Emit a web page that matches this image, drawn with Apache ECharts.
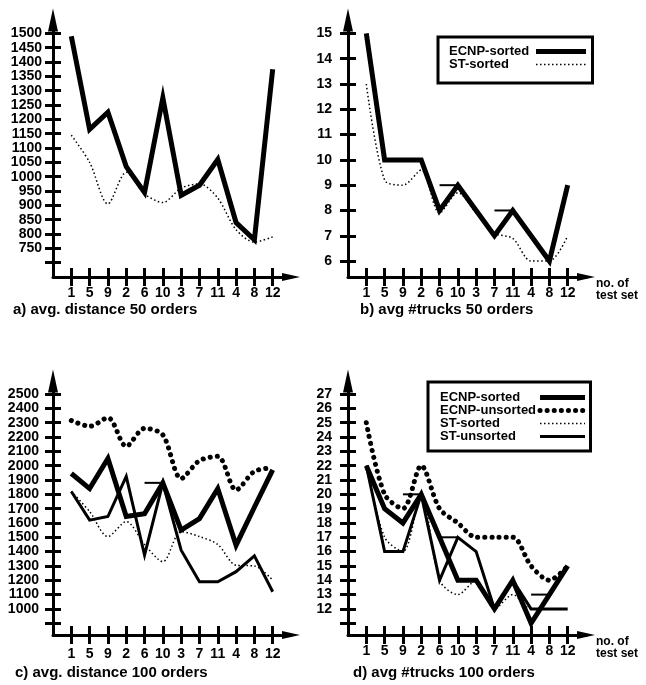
<!DOCTYPE html>
<html>
<head>
<meta charset="utf-8">
<title>ECNP / ST test sets</title>
<script src="https://cdn.jsdelivr.net/npm/echarts@6/dist/echarts.min.js"></script>
<style>
html, body { margin: 0; padding: 0; background: #fff; }
#main { width: 646px; height: 685px; }
</style>
</head>
<body>
<div id="main"></div>
<script>
var testSets = ['1', '5', '9', '2', '6', '10', '3', '7', '11', '4', '8', '12'];

// a) avg. distance 50 orders
var distEcnpSorted50 = [1490, 1165, 1225, 1035, 945, 1275, 935, 970, 1060, 840, 780, 1375];
var distStSorted50 = [1145, 1050, 905, 1015, 940, 910, 960, 975, 925, 815, 772, 790];

// b) avg #trucks 50 orders
var trucksEcnpSorted50 = [15, 10, 10, 10, 8, 9, 8, 7, 8, 7, 6, 9];
var trucksStSorted50 = [13, 9.2, 9, 9.6, 7.9, 8.7, 7.9, 7.1, 6.9, 6, 6, 7];

// c) avg. distance 100 orders
var distEcnpSorted100 = [1945, 1840, 2050, 1645, 1665, 1880, 1550, 1630, 1840, 1445, 1710, 1970];
var distEcnpUnsorted100 = [2315, 2275, 2335, 2135, 2260, 2215, 1910, 2035, 2065, 1830, 1960, 1985];
var distStSorted100 = [1820, 1680, 1505, 1610, 1450, 1330, 1540, 1505, 1450, 1305, 1300, 1200];
var distStUnsorted100 = [1820, 1620, 1645, 1925, 1375, 1880, 1410, 1190, 1190, 1260, 1370, 1120];

// d) avg #trucks 100 orders
var trucksEcnpSorted100 = [22, 19, 18, 20, 17, 14, 14, 12, 14, 11, 13, 15];
var trucksEcnpUnsorted100 = [25, 20, 19, 22, 19, 18, 17, 17, 17, 15, 14, 15];
var trucksStSorted100 = [22, 17, 16, 20, 14, 13, 14, 12, 13, 12, 12, 12];
var trucksStUnsorted100 = [22, 16, 16, 20, 14, 17, 16, 12, 14, 12, 12, 12];

// short flat strokes left in the original plots: [from index, to index, value]
var stepsB = [[4, 5, 9], [7, 8, 8]];
var stepsC = [[4, 5, 1880]];
var stepsD = [[2, 3, 20], [4, 5, 17], [9, 10, 13]];

// y ticks / labels
var ticksA = [700, 750, 800, 850, 900, 950, 1000, 1050, 1100, 1150, 1200, 1250, 1300, 1350, 1400, 1450, 1500];
var labelsA = [750, 800, 850, 900, 950, 1000, 1050, 1100, 1150, 1200, 1250, 1300, 1350, 1400, 1450, 1500];
var ticksB = [6, 7, 8, 9, 10, 11, 12, 13, 14, 15];
var labelsB = [6, 7, 8, 9, 10, 11, 12, 13, 14, 15];
var ticksC = [900, 1000, 1100, 1200, 1300, 1400, 1500, 1600, 1700, 1800, 1900, 2000, 2100, 2200, 2300, 2400, 2500];
var labelsC = [1000, 1100, 1200, 1300, 1400, 1500, 1600, 1700, 1800, 1900, 2000, 2100, 2200, 2300, 2400, 2500];
var ticksD = [11, 12, 13, 14, 15, 16, 17, 18, 19, 20, 21, 22, 23, 24, 25, 26, 27];
var labelsD = [12, 13, 14, 15, 16, 17, 18, 19, 20, 21, 22, 23, 24, 25, 26, 27];

var FONT = '"Liberation Sans", Arial, sans-serif';
var catIdx = [0, 1, 2, 3, 4, 5, 6, 7, 8, 9, 10, 11];

var dom = document.getElementById('main');
var myChart = echarts.init(dom, null, { renderer: 'canvas' });

function pairs(values) {
    return values.map(function (v, i) { return [i, v]; });
}

var styles = {
    'ECNP-sorted': { lineStyle: { color: '#000', width: 5, type: 'solid', join: 'miter' }, smooth: false },
    'ECNP-unsorted': { lineStyle: { color: '#000', width: 5, type: [0.1, 7], cap: 'round' }, smooth: 0.3 },
    'ST-sorted': { lineStyle: { color: '#000', width: 1.5, type: [1.5, 2.5] }, smooth: 0.3 },
    'ST-unsorted': { lineStyle: { color: '#000', width: 3, type: 'solid', join: 'miter' }, smooth: false }
};

var xAxes = [], yAxes = [], series = [];

// one panel = grid g, two overlapping axes per direction so ticks cross the axis line
function panel(g, yMin, yMax, ticks, labels, yMargin, xMargin, withName) {
    xAxes.push({
        type: 'value', gridIndex: g, min: -1, max: 12, position: 'bottom',
        axisLine: { show: true, onZero: false, symbol: ['none', 'triangle'], symbolSize: [8, 18],
            lineStyle: { color: '#000', width: 3 } },
        axisTick: { show: true, customValues: catIdx, length: 9, lineStyle: { color: '#000', width: 3 } },
        axisLabel: { show: true, customValues: catIdx, margin: xMargin,
            formatter: function (v) { return testSets[v]; },
            color: '#000', fontFamily: FONT, fontSize: 14, fontWeight: 'bold' },
        splitLine: { show: false },
        name: withName ? 'no. of\ntest set' : '',
        nameLocation: 'end', nameGap: 10,
        nameTextStyle: { color: '#000', fontFamily: FONT, fontSize: 12, fontWeight: 'bold',
            lineHeight: 12, align: 'left', verticalAlign: 'top', padding: [1, 0, 0, 0] }
    });
    xAxes.push({
        type: 'value', gridIndex: g, min: -1, max: 12, position: 'bottom',
        axisLine: { show: false, onZero: false },
        axisTick: { show: true, inside: true, customValues: catIdx, length: 9, lineStyle: { color: '#000', width: 3 } },
        axisLabel: { show: false },
        splitLine: { show: false }
    });
    yAxes.push({
        type: 'value', gridIndex: g, min: yMin, max: yMax, position: 'left',
        axisLine: { show: true, onZero: false, symbol: ['none', 'triangle'], symbolSize: [10, 23],
            lineStyle: { color: '#000', width: 3 } },
        axisTick: { show: true, customValues: ticks, length: 8, lineStyle: { color: '#000', width: 3 } },
        axisLabel: { show: true, customValues: labels, margin: yMargin,
            formatter: function (v) { return String(v); },
            color: '#000', fontFamily: FONT, fontSize: 14, fontWeight: 'bold' },
        splitLine: { show: false }
    });
    yAxes.push({
        type: 'value', gridIndex: g, min: yMin, max: yMax, position: 'left',
        axisLine: { show: false, onZero: false },
        axisTick: { show: true, inside: true, customValues: ticks, length: 8, lineStyle: { color: '#000', width: 3 } },
        axisLabel: { show: false },
        splitLine: { show: false }
    });
}

function addLine(g, name, values) {
    var st = styles[name];
    series.push({
        name: name, type: 'line', xAxisIndex: 2 * g, yAxisIndex: 2 * g,
        data: pairs(values), symbol: 'none', smooth: st.smooth,
        lineStyle: st.lineStyle, itemStyle: { color: '#000' },
        silent: true, animation: false, z: 3
    });
}

function addSteps(g, steps) {
    steps.forEach(function (s) {
        series.push({
            type: 'line', xAxisIndex: 2 * g, yAxisIndex: 2 * g,
            data: [[s[0], s[2]], [s[1], s[2]]], symbol: 'none',
            lineStyle: { color: '#000', width: 2 }, silent: true, animation: false, z: 2
        });
    });
}

panel(0, 650, 1546.5, ticksA, labelsA, 11, 9, false);
panel(1, 5.37, 15.53, ticksB, labelsB, 16, 9, true);
panel(2, 818, 2591, ticksC, labelsC, 14, 12, false);
panel(3, 10.18, 27.91, ticksD, labelsD, 16, 9, true);

addLine(0, 'ECNP-sorted', distEcnpSorted50);
addLine(0, 'ST-sorted', distStSorted50);

addLine(1, 'ECNP-sorted', trucksEcnpSorted50);
addLine(1, 'ST-sorted', trucksStSorted50);
addSteps(1, stepsB);

addLine(2, 'ECNP-unsorted', distEcnpUnsorted100);
addLine(2, 'ECNP-sorted', distEcnpSorted100);
addLine(2, 'ST-unsorted', distStUnsorted100);
addLine(2, 'ST-sorted', distStSorted100);
addSteps(2, stepsC);

addLine(3, 'ECNP-unsorted', trucksEcnpUnsorted100);
addLine(3, 'ECNP-sorted', trucksEcnpSorted100);
addLine(3, 'ST-unsorted', trucksStUnsorted100);
addLine(3, 'ST-sorted', trucksStSorted100);
addSteps(3, stepsD);

function legendBox(names, left, top, textWidth, iconWidth, rowHeight, padding) {
    return {
        data: names, left: left, top: top, orient: 'vertical', align: 'right',
        padding: padding, itemGap: 0, itemWidth: iconWidth, itemHeight: 12,
        borderColor: '#000', borderWidth: 3, backgroundColor: '#fff',
        selectedMode: false,
        // only the line sample, no symbol in the middle
        itemStyle: { color: 'rgba(0,0,0,0)', borderColor: 'rgba(0,0,0,0)', borderWidth: 0, opacity: 0 },
        lineStyle: { width: 'inherit', type: 'inherit', color: 'inherit' },
        formatter: '{n|{name}}',
        textStyle: {
            rich: { n: { width: textWidth, align: 'left', color: '#000', fontFamily: FONT,
                fontSize: 13, fontWeight: 'bold', lineHeight: rowHeight } }
        }
    };
}

var titleStyle = { color: '#000', fontFamily: FONT, fontSize: 15, fontWeight: 'bold' };

option = {
    backgroundColor: '#fff',
    animation: false,
    title: [
        { text: 'a) avg. distance 50 orders', left: 13, top: 302, padding: 0, textStyle: titleStyle },
        { text: 'b) avg #trucks 50 orders', left: 360, top: 302, padding: 0, textStyle: titleStyle },
        { text: 'c) avg. distance 100 orders', left: 15, top: 665, padding: 0, textStyle: titleStyle },
        { text: 'd) avg #trucks 100 orders', left: 353, top: 665, padding: 0, textStyle: titleStyle }
    ],
    legend: [
        legendBox(['ECNP-sorted', 'ST-sorted'], 438, 37, 82, 50, 16, [8, 4, 12, 11]),
        legendBox(['ECNP-sorted', 'ECNP-unsorted', 'ST-sorted', 'ST-unsorted'], 428, 382, 95, 45, 14, [9, 3, 8, 12])
    ],
    grid: [
        { left: 53, top: 20, width: 238, height: 257, outerBoundsMode: 'none' },
        { left: 348, top: 20, width: 238, height: 257, outerBoundsMode: 'none' },
        { left: 53, top: 381, width: 238, height: 254, outerBoundsMode: 'none' },
        { left: 348, top: 381, width: 238, height: 254, outerBoundsMode: 'none' }
    ],
    xAxis: xAxes,
    yAxis: yAxes,
    series: series
};

myChart.setOption(option);
</script>
</body>
</html>
